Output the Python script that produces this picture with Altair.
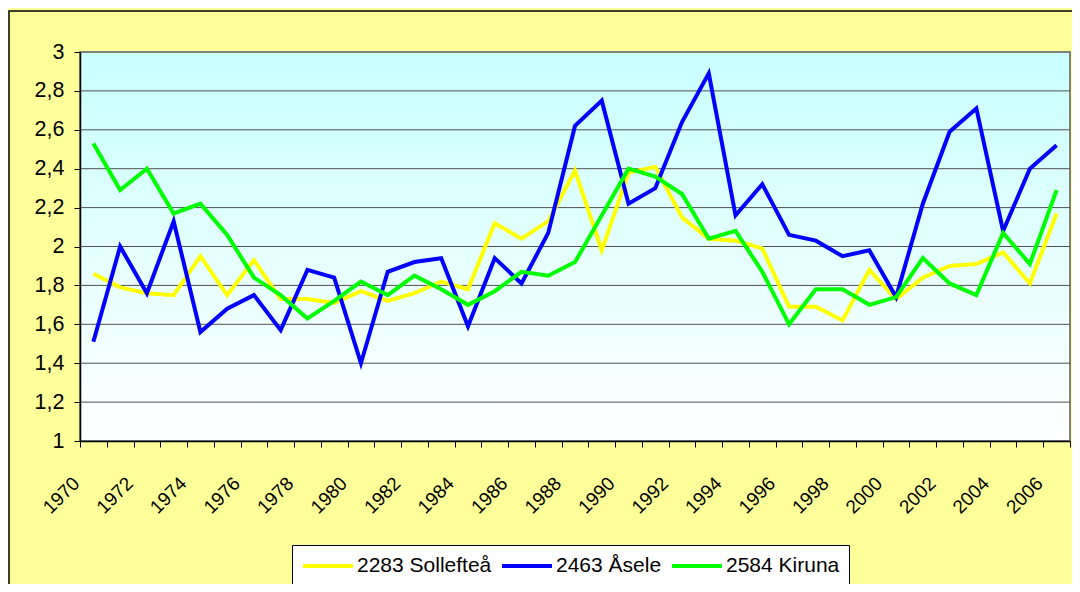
import altair as alt
import pandas as pd

years = list(range(1970, 2007))
series_names = ["2283 Sollefteå", "2463 Åsele", "2584 Kiruna"]
series_colors = ["#FFFF00", "#0000FF", "#00FF00"]

solleftea = [1.86, 1.79, 1.76, 1.75, 1.95, 1.75, 1.93, 1.73, 1.73, 1.71,
             1.77, 1.72, 1.76, 1.82, 1.78, 2.12, 2.04, 2.13, 2.39, 1.98,
             2.38, 2.41, 2.15, 2.04, 2.03, 1.99, 1.69, 1.69, 1.62, 1.88,
             1.73, 1.84, 1.90, 1.91, 1.97, 1.81, 2.17]
asele = [1.51, 2.00, 1.76, 2.13, 1.56, 1.68, 1.75, 1.57, 1.88, 1.84,
         1.40, 1.87, 1.92, 1.94, 1.59, 1.94, 1.81, 2.07, 2.62, 2.75,
         2.22, 2.30, 2.64, 2.89, 2.16, 2.32, 2.06, 2.03, 1.95, 1.98,
         1.74, 2.22, 2.59, 2.71, 2.08, 2.40, 2.52]
kiruna = [2.53, 2.29, 2.40, 2.17, 2.22, 2.06, 1.84, 1.75, 1.63, 1.72,
          1.82, 1.75, 1.85, 1.78, 1.70, 1.77, 1.87, 1.85, 1.92, 2.16,
          2.40, 2.36, 2.27, 2.04, 2.08, 1.87, 1.60, 1.78, 1.78, 1.70,
          1.74, 1.94, 1.81, 1.75, 2.07, 1.91, 2.29]

y_ticks = [1.0, 1.2, 1.4, 1.6, 1.8, 2.0, 2.2, 2.4, 2.6, 2.8, 3.0]
grid_values = [1.2, 1.4, 1.6, 1.8, 2.0, 2.2, 2.4, 2.6, 2.8]
x_domain = [1969.5, 2006.5]
y_domain = [1.0, 3.0]

rows = []
for order, (name, vals) in enumerate(zip(series_names, [solleftea, asele, kiruna])):
    for yr, v in zip(years, vals):
        rows.append({"year": yr, "value": v, "series": name, "order": order})
df = pd.DataFrame(rows)

# tick marks sit on the category boundaries; each boundary carries the label
# of the year that starts there (shown for even years only)
boundaries = [x_domain[0] + k for k in range(len(years) + 1)]

FONT = "Liberation Sans"

x_scale = alt.Scale(domain=x_domain, nice=False, zero=False)
y_scale = alt.Scale(domain=y_domain, nice=False, zero=False)

x_axis = alt.Axis(
    values=boundaries, tickCount=len(boundaries) + 5, title=None,
    labelExpr="(datum.value + 0.5) % 2 === 0 && datum.value < 2006 ? format(datum.value + 0.5, 'd') : ''",
    tickSize=6, tickColor="#000000", domainColor="#000000", domainWidth=1.5,
    labelAngle=315, labelAlign="right", labelBaseline="middle",
    labelOffset=-4, labelPadding=33, labelFontSize=19, labelFont=FONT,
    labelColor="#000000", labelOverlap=False, labelBound=False, labelFlush=False,
    grid=False, zindex=1,
)
y_axis = alt.Axis(
    values=y_ticks, tickCount=len(y_ticks) + 5, title=None,
    labelExpr="replace(format(datum.value, '.1~f'), '.', ',')",
    tickSize=6, tickColor="#000000", domainColor="#000000", domainWidth=1.5,
    labelPadding=10, labelFontSize=21.5, labelFont=FONT, labelColor="#000000",
    labelOverlap=False, grid=False, zindex=1,
)

bg_df = pd.DataFrame({"x": [x_domain[0]], "x2": [x_domain[1]], "y": [y_domain[0]], "y2": [y_domain[1]]})
background = alt.Chart(bg_df).mark_rect(
    fill=alt.Gradient(
        gradient="linear",
        stops=[alt.GradientStop(color="#C8FFFF", offset=0),
               alt.GradientStop(color="#FFFFFF", offset=1)],
        x1=0, x2=0, y1=0, y2=1,
    ),
    stroke="#808080", strokeWidth=2,
).encode(
    x=alt.X("x:Q", scale=x_scale, axis=x_axis),
    x2="x2:Q",
    y=alt.Y("y:Q", scale=y_scale, axis=y_axis),
    y2="y2:Q",
)

grid = alt.Chart(pd.DataFrame({"g": grid_values})).mark_rule(
    color="#505050", strokeWidth=1
).encode(y=alt.Y("g:Q", scale=y_scale))

lines = alt.Chart(df).mark_line(strokeWidth=4).encode(
    x=alt.X("year:Q", scale=x_scale),
    y=alt.Y("value:Q", scale=y_scale),
    color=alt.Color(
        "series:N",
        scale=alt.Scale(domain=series_names, range=series_colors),
        sort=series_names,
        legend=alt.Legend(
            title=None, orient="none", legendX=212, legendY=493,
            direction="horizontal", columns=3,
            symbolType="M-1,0H4", symbolStrokeWidth=4, symbolSize=400,
            labelFontSize=21, labelFont=FONT, labelColor="#000000",
            labelOffset=32, columnPadding=2, padding=9,
            strokeColor="#000000", fillColor="#FFFFFF", cornerRadius=0,
        ),
    ),
    detail="order:N",
)

frame = alt.Chart(bg_df).mark_rect(
    fillOpacity=0, stroke="#000000", strokeWidth=1.5
).encode(
    x=alt.value(-71), x2=alt.value(1200), y=alt.value(-41), y2=alt.value(800)
)

chart = alt.layer(background, grid, lines, frame).properties(
    width=990, height=389,
    padding={"left": 72, "top": 44, "right": 2, "bottom": 143},
    autosize=alt.AutoSizeParams(type="none"),
    background="#FFFF99",
).configure_view(stroke=None)

chart.save("out.html", embed_options={"renderer": "svg", "actions": False})
